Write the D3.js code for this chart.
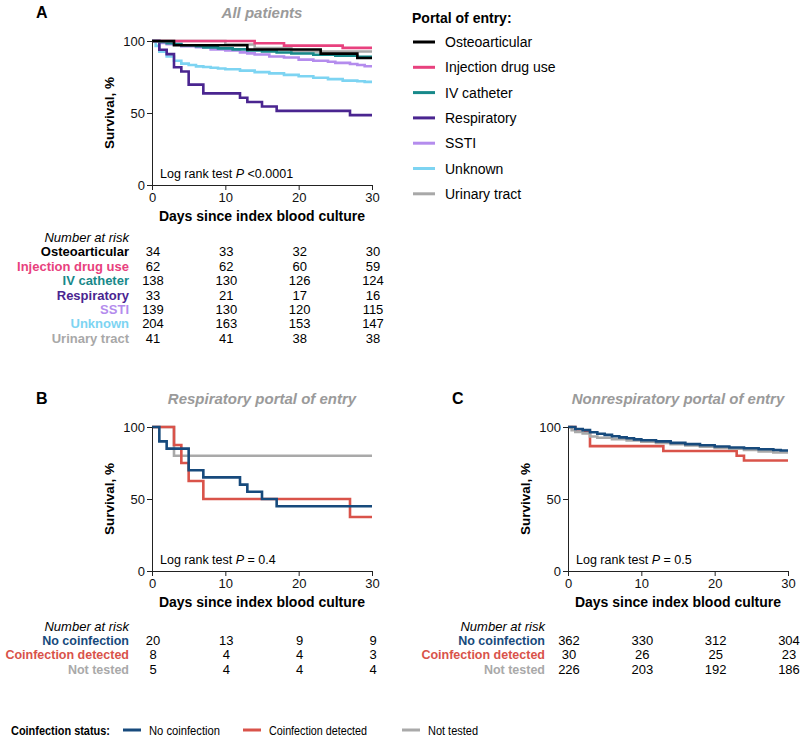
<!DOCTYPE html>
<html>
<head>
<meta charset="utf-8">
<script src="https://cdn.jsdelivr.net/npm/d3@7"></script>
<style>
  body { margin: 0; background: #fff; }
  svg { font-family: "Liberation Sans", Arial, sans-serif; }
  .axis path, .axis line { stroke: #222; }
  .axis text { font-size: 13px; fill: #111; }
</style>
</head>
<body>
<div id="viz"></div>
<script>
// ---- data ----
var dayTicks = [0, 10, 20, 30];
var survTicks = [0, 50, 100];

var portals = ["Osteoarticular", "Injection drug use", "IV catheter", "Respiratory", "SSTI", "Unknown", "Urinary tract"];
var portalColors = ["#000000", "#e8417e", "#17898a", "#4a2590", "#b48ced", "#7dd4f2", "#a8a8a8"];

// [day, survival %]
var osteoarticular = [[0, 100], [3, 97.1], [13, 94.1], [23, 91.2], [28, 88.2]];
var injectionDrug = [[0, 100], [14, 98.4], [18, 96.8], [26, 95.2]];
var ivCatheter = [[0, 100], [1, 99.3], [2, 98.5], [3, 97.8], [4, 97.1], [6, 96.4], [7, 95.6], [9, 94.9], [11, 94.2], [13, 93.4], [15, 92.7], [17, 92.0], [19, 91.3], [22, 90.5], [25, 89.8], [28, 89.1]];
var respiratory = [[0, 100], [1, 93.9], [2, 90.9], [3, 81.8], [4, 78.8], [5, 69.7], [7, 63.6], [12, 60.6], [13, 57.6], [15, 54.5], [17, 51.5], [27, 48.5]];
var ssti = [[0, 100], [1, 98.6], [2, 97.8], [4, 96.4], [6, 95.7], [8, 94.2], [10, 93.5], [12, 92.1], [13, 91.4], [14, 90.6], [16, 89.2], [18, 88.5], [20, 87.1], [22, 86.3], [24, 85.6], [25, 84.8], [27, 84.0], [28, 83.3], [29, 82.5]];
var unknown = [[0, 100], [0.5, 96.6], [1, 92.6], [2, 89.2], [3, 86.3], [4, 84.3], [5, 83.3], [6, 82.4], [7, 81.9], [8, 81.4], [9, 80.9], [10, 80.4], [12, 79.4], [14, 78.4], [16, 77.5], [18, 76.5], [20, 75.5], [22, 74.5], [24, 73.5], [26, 72.5], [28, 72.0], [29, 71.6]];
var urinary = [[0, 100], [10, 97.6], [14, 95.1], [19, 92.7]];

var portalRisk = [
  [34, 33, 32, 30],
  [62, 62, 60, 59],
  [138, 130, 126, 124],
  [33, 21, 17, 16],
  [139, 130, 120, 115],
  [204, 163, 153, 147],
  [41, 41, 38, 38]
];

var coinfection = ["No coinfection", "Coinfection detected", "Not tested"];
var coinfColors = ["#174a7c", "#d9534a", "#a9a9a9"];

var respNoCoinf = [[0, 100], [1, 90], [2, 85], [5, 70], [7, 65], [12, 60], [13, 55], [15, 50], [17, 45]];
var respCoinf = [[0, 100], [3, 87.5], [4, 75], [5, 62.5], [7, 50], [27, 37.5]];
var respNotTested = [[0, 100], [3, 80]];
var respRisk = [[20, 13, 9, 9], [8, 4, 4, 3], [5, 4, 4, 4]];

var nonrespNoCoinf = [[0, 100], [1, 98.6], [2, 97.8], [3, 96.4], [4, 95.3], [5, 94.5], [6, 93.6], [7, 92.8], [8, 92.2], [9, 91.4], [10, 90.8], [12, 90.0], [14, 89.0], [16, 88.1], [18, 87.3], [20, 86.5], [22, 85.8], [24, 85.2], [26, 84.6], [28, 84.0], [29, 83.7]];
var nonrespCoinf = [[0, 100], [1, 96.7], [3, 86.7], [13, 83.3], [23, 80], [24, 76.7]];
var nonrespNotTested = [[0, 100], [0.5, 97.8], [1, 96.5], [2, 95.6], [3, 93.4], [4, 92.5], [6, 91.6], [8, 90.7], [10, 89.8], [12, 88.9], [14, 88.1], [16, 87.2], [18, 86.3], [20, 85.4], [22, 84.9], [24, 84.0], [26, 83.1], [28, 82.3]];
var nonrespRisk = [[362, 330, 312, 304], [30, 26, 25, 23], [226, 203, 192, 186]];

// ---- drawing ----
var W = 220; // plot width
var svg = d3.select("#viz").append("svg")
  .attr("width", 800)
  .attr("height", 740);

function riskTable(left, ty, step, names, colors, risk, fs) {
  var x = d3.scaleLinear().domain([0, 30]).range([left, left + W]);
  svg.append("text")
    .attr("x", left - 23).attr("y", ty)
    .attr("text-anchor", "end")
    .style("font-size", "13px").style("font-style", "italic")
    .text("Number at risk");
  names.forEach(function (name, i) {
    var ry = ty + step * (i + 1);
    svg.append("text")
      .attr("x", left - 23).attr("y", ry)
      .attr("text-anchor", "end")
      .style("font-size", fs).style("font-weight", "bold")
      .style("fill", colors[i])
      .text(name);
    risk[i].forEach(function (v, j) {
      svg.append("text")
        .attr("x", x(dayTicks[j]) + 1).attr("y", ry)
        .attr("text-anchor", "middle")
        .style("font-size", "13px")
        .text(v);
    });
  });
}

function drawPanel(opts) {
  var x = d3.scaleLinear().domain([0, 30]).range([opts.left, opts.left + W]);
  var y = d3.scaleLinear().domain([0, 100]).range([opts.top + 144, opts.top]);
  var g = svg.append("g");

  // panel letter + title
  g.append("text")
    .attr("x", opts.letterX).attr("y", opts.top - 23)
    .style("font-size", "16px").style("font-weight", "bold")
    .text(opts.letter);
  g.append("text")
    .attr("x", opts.left + 110).attr("y", opts.top - 23)
    .attr("text-anchor", "middle")
    .style("font-size", "15px").style("font-weight", "bold")
    .style("font-style", "italic").style("fill", "#9a9a9a")
    .text(opts.title);

  // step curves
  var line = d3.line()
    .x(function (d) { return x(d[0]); })
    .y(function (d) { return y(d[1]); })
    .curve(d3.curveStepAfter);
  opts.series.forEach(function (s, i) {
    var pts = s.concat([[30, s[s.length - 1][1]]]);
    g.append("path")
      .datum(pts)
      .attr("fill", "none")
      .attr("stroke", opts.colors[i])
      .attr("stroke-width", 2.6)
      .attr("d", line);
  });

  // axes
  g.append("g").attr("class", "axis")
    .attr("transform", "translate(0," + (opts.top + 144) + ")")
    .call(d3.axisBottom(x).tickValues(dayTicks).tickSize(5).tickSizeOuter(0).tickPadding(3));
  g.append("g").attr("class", "axis")
    .attr("transform", "translate(" + opts.left + ",0)")
    .call(d3.axisLeft(y).tickValues(survTicks).tickSize(5).tickSizeOuter(0).tickPadding(2));

  g.append("text")
    .attr("transform", "translate(" + (opts.left - 38) + "," + (opts.top + 72) + ") rotate(-90)")
    .attr("text-anchor", "middle")
    .style("font-size", "13.5px").style("font-weight", "bold")
    .text("Survival, %");
  g.append("text")
    .attr("x", opts.left + 110).attr("y", opts.top + 180)
    .attr("text-anchor", "middle")
    .style("font-size", "14px").style("font-weight", "bold")
    .text("Days since index blood culture");

  // log rank text
  var lr = g.append("text")
    .attr("x", opts.left + 8).attr("y", opts.top + 137)
    .style("font-size", "12.5px");
  lr.append("tspan").text("Log rank test ");
  lr.append("tspan").style("font-style", "italic").text("P");
  lr.append("tspan").text(opts.pText);
}

// curves drawn in reverse so the first series ends up on top
drawPanel({
  letter: "A", letterX: 36, title: "All patients",
  left: 152, top: 41,
  series: [osteoarticular, injectionDrug, ivCatheter, respiratory, ssti, unknown, urinary].slice().reverse(),
  colors: portalColors.slice().reverse(),
  pText: " <0.0001"
});
drawPanel({
  letter: "B", letterX: 36, title: "Respiratory portal of entry",
  left: 152, top: 427,
  series: [respNotTested, respCoinf, respNoCoinf],
  colors: [coinfColors[2], coinfColors[1], coinfColors[0]],
  pText: " = 0.4"
});
drawPanel({
  letter: "C", letterX: 452, title: "Nonrespiratory portal of entry",
  left: 568, top: 427,
  series: [nonrespCoinf, nonrespNotTested, nonrespNoCoinf],
  colors: [coinfColors[1], coinfColors[2], coinfColors[0]],
  pText: " = 0.5"
});

riskTable(152, 242, 14.4, portals, portalColors, portalRisk, "13px");
riskTable(152, 631, 14.2, coinfection, coinfColors, respRisk, "12.5px");
riskTable(568, 631, 14.2, coinfection, coinfColors, nonrespRisk, "12.5px");

// portal legend
var leg = svg.append("g").attr("transform", "translate(412,0)");
leg.append("text")
  .attr("x", 0).attr("y", 23)
  .style("font-size", "14px").style("font-weight", "bold")
  .text("Portal of entry:");
portals.forEach(function (name, i) {
  var ly = 42 + 25.3 * i;
  leg.append("line")
    .attr("x1", 1).attr("x2", 23).attr("y1", ly).attr("y2", ly)
    .attr("stroke", portalColors[i]).attr("stroke-width", 3);
  leg.append("text")
    .attr("x", 33).attr("y", ly + 5)
    .style("font-size", "14px")
    .text(name);
});

// coinfection legend
var leg2 = svg.append("g").attr("transform", "translate(0,730)");
leg2.append("text")
  .attr("x", 11).attr("y", 5)
  .attr("textLength", 99).attr("lengthAdjust", "spacingAndGlyphs")
  .style("font-size", "13px").style("font-weight", "bold")
  .text("Coinfection status:");
var legX = [123, 243, 402];
var legW = [71, 98, 50];
coinfection.forEach(function (name, i) {
  leg2.append("line")
    .attr("x1", legX[i]).attr("x2", legX[i] + 18).attr("y1", 0).attr("y2", 0)
    .attr("stroke", coinfColors[i]).attr("stroke-width", 3);
  leg2.append("text")
    .attr("x", legX[i] + 26).attr("y", 5)
    .attr("textLength", legW[i]).attr("lengthAdjust", "spacingAndGlyphs")
    .style("font-size", "13px")
    .text(name);
});
</script>
</body>
</html>
